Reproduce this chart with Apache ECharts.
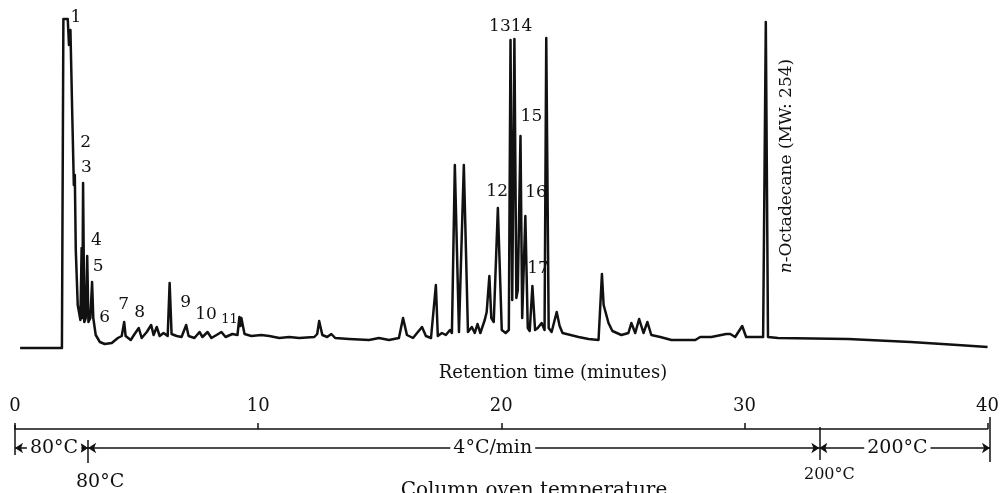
<!DOCTYPE html>
<html>
<head>
<meta charset="utf-8">
<style>
  html, body { margin: 0; padding: 0; background: #fff; }
  #chart { width: 1002px; height: 493px; }
</style>
</head>
<body>
<div id="chart"></div>
<script src="https://cdn.jsdelivr.net/npm/echarts@6/dist/echarts.min.js"></script>
<script>
// trace: retention time (min) and detector response (arb. units)
const retentionTime = [
  0.21, 1.93, 1.99, 2.17, 2.22, 2.28, 2.36, 2.42, 2.46, 2.50,
  2.58, 2.69, 2.74, 2.77, 2.80, 2.85, 2.91, 2.97, 3.02, 3.10,
  3.17, 3.22, 3.32, 3.49, 3.69, 3.98, 4.23, 4.39, 4.49, 4.55,
  4.76, 4.92, 5.09, 5.21, 5.42, 5.60, 5.70, 5.83, 5.95, 6.11,
  6.28, 6.36, 6.44, 6.65, 6.85, 7.04, 7.14, 7.38, 7.59, 7.71,
  7.92, 8.08, 8.29, 8.49, 8.66, 8.94, 9.15, 9.23, 9.27, 9.31,
  9.44, 9.72, 10.13, 10.46, 10.87, 11.28, 11.69, 12.31, 12.43, 12.51,
  12.64, 12.84, 13.01, 13.17, 13.74, 14.56, 14.97, 15.38, 15.79, 15.96,
  16.12, 16.37, 16.57, 16.74, 16.90, 17.11, 17.31, 17.39, 17.56, 17.72,
  17.89, 17.97, 18.09, 18.26, 18.34, 18.46, 18.63, 18.79, 18.91, 19.02,
  19.14, 19.32, 19.40, 19.51, 19.59, 19.69, 19.86, 20.02, 20.18, 20.31,
  20.38, 20.45, 20.54, 20.62, 20.68, 20.79, 20.86, 20.90, 20.99, 21.09,
  21.17, 21.28, 21.39, 21.50, 21.66, 21.78, 21.85, 21.95, 22.07, 22.28,
  22.40, 22.52, 22.85, 23.18, 23.59, 24.00, 24.14, 24.21, 24.27, 24.41,
  24.57, 24.94, 25.23, 25.35, 25.51, 25.67, 25.85, 26.01, 26.17, 26.54,
  27.00, 27.98, 28.18, 28.64, 29.25, 29.42, 29.62, 29.91, 30.07, 30.77,
  30.88, 30.97, 31.38, 34.26, 36.84, 38.77, 40.00
]
const detectorSignal = [
  2, 2, 331, 331, 305, 320, 230, 165, 175, 100,
  45, 30, 102, 32, 167, 28, 32, 94, 28, 32,
  68, 32, 15, 8, 6, 7, 12, 14, 28, 14,
  10, 16, 22, 12, 18, 25, 15, 23, 14, 17,
  14, 67, 16, 14, 13, 25, 14, 12, 18, 13,
  18, 12, 15, 18, 13, 16, 15, 33, 24, 32,
  16, 14, 15, 14, 12, 13, 12, 13, 16, 29,
  15, 13, 16, 12, 11, 10, 12, 10, 12, 32,
  15, 12, 18, 23, 14, 12, 65, 14, 17, 15,
  20, 17, 185, 18, 20, 185, 18, 23, 17, 26,
  17, 30, 38, 74, 32, 28, 142, 20, 17, 20,
  310, 50, 311, 52, 60, 214, 32, 30, 134, 22,
  19, 64, 20, 22, 27, 20, 312, 22, 18, 38,
  24, 17, 15, 13, 11, 10, 76, 45, 47, 27,
  19, 15, 17, 27, 17, 31, 17, 28, 15, 13,
  10, 10, 13, 13, 16, 16, 13, 24, 13, 13,
  328, 13, 12, 11, 8, 5, 3
]

// peak numbers and where they are written (time, response)
const peakNames = ['1', '2', '3', '4', '5', '6', '7', '8', '9', '10', '11', '12', '1314', '15', '16', '17']
const peakNameTime = [2.50, 2.91, 2.94, 3.35, 3.42, 3.69, 4.47, 5.13, 7.02, 7.86, 8.82, 19.83, 20.39, 21.24, 21.43, 21.51]
const peakNameSignal = [332, 207, 182, 109, 83, 32, 45, 37, 47, 35, 30, 158, 323, 233, 157, 81]

// internal standard
const standardName = ['n', '-Octadecane (MW: 254)']
const standardTime = 31.75
const standardSignal = 184

// oven program
const programBreaks = [0, 3, 33, 40]
const programSteps = ['80°C', '4°C/min', '200°C']
const programStepTime = [1.6, 19.6, 36.2]
const programTemps = ['', '80°C', '200°C', '']

const FONT = 'DejaVu Serif'
const INK = '#111'

const chart = echarts.init(document.getElementById('chart'))

const trace = retentionTime.map((t, i) => [t, detectorSignal[i]])
const peakLabels = peakNames.map((name, i) => ({
  name: name,
  value: [peakNameTime[i], peakNameSignal[i]],
  label: name === '11' ? { fontSize: 13 } : undefined
}))

// temperature bar: level of the arrow line and the heights of the boundary marks
const BAR_Y = 45
const boundSpan = [[38, 68], [30, 53], [33, 66], [31, 76]]

const stepLines = programSteps.map((step, i) => [
  { coord: [programBreaks[i], BAR_Y] },
  { coord: [programBreaks[i + 1], BAR_Y] }
])
const boundLines = programBreaks.map((t, i) => [
  { coord: [t, boundSpan[i][0]], symbol: 'none' },
  { coord: [t, boundSpan[i][1]], symbol: 'none' }
])

const textLayer = {
  type: 'scatter',
  silent: true,
  clip: false,
  symbolSize: 1,
  itemStyle: { color: 'transparent', opacity: 1 },
  z: 5
}

const option = {
  animation: false,
  grid: [
    { left: 15, right: 12, top: 10, bottom: 143 },
    { left: 15, right: 12, top: 415, bottom: 0 }
  ],
  xAxis: [
    {
      gridIndex: 0,
      type: 'value',
      min: 0,
      max: 40,
      interval: 10,
      position: 'bottom',
      offset: 79,
      axisLine: { onZero: false, lineStyle: { color: INK, width: 1.5 } },
      axisTick: { inside: true, length: 6, lineStyle: { color: INK, width: 1.5 } },
      axisLabel: { inside: true, margin: 14, color: INK, fontFamily: FONT, fontSize: 18, showMinLabel: true, showMaxLabel: true },
      splitLine: { show: false }
    },
    { gridIndex: 1, type: 'value', min: 0, max: 40, show: false }
  ],
  yAxis: [
    { gridIndex: 0, type: 'value', min: 0, max: 340, show: false },
    { gridIndex: 1, type: 'value', min: 0, max: 78, show: false }
  ],
  series: [
    {
      type: 'line',
      xAxisIndex: 0,
      yAxisIndex: 0,
      data: trace,
      showSymbol: false,
      silent: true,
      clip: false,
      lineStyle: { color: INK, width: 2.5, join: 'round' }
    },
    Object.assign({}, textLayer, {
      xAxisIndex: 0,
      yAxisIndex: 0,
      label: {
        show: true,
        position: 'inside',
        formatter: '{b}',
        color: INK,
        fontFamily: FONT,
        fontSize: 17
      },
      data: peakLabels
    }),
    Object.assign({}, textLayer, {
      xAxisIndex: 0,
      yAxisIndex: 0,
      label: {
        show: true,
        position: 'inside',
        rotate: 90,
        formatter: '{i|' + standardName[0] + '}' + standardName[1],
        color: INK,
        fontFamily: FONT,
        fontSize: 17,
        rich: { i: { fontStyle: 'italic', fontFamily: FONT, fontSize: 17, color: INK } }
      },
      data: [[standardTime, standardSignal]]
    }),
    {
      type: 'line',
      xAxisIndex: 1,
      yAxisIndex: 1,
      data: [],
      silent: true,
      markLine: {
        silent: true,
        animation: false,
        symbol: ['arrow', 'arrow'],
        symbolSize: 8,
        lineStyle: { color: INK, width: 1.5, type: 'solid' },
        label: { show: false },
        emphasis: { disabled: true },
        data: stepLines.concat(boundLines)
      }
    },
    Object.assign({}, textLayer, {
      xAxisIndex: 1,
      yAxisIndex: 1,
      data: programSteps.map((step, i) => ({ name: step, value: [programStepTime[i], BAR_Y] })),
      label: {
        show: true,
        position: 'inside',
        formatter: '{b}',
        color: INK,
        fontFamily: FONT,
        fontSize: 19,
        backgroundColor: '#fff',
        padding: [0, 3]
      }
    }),
    Object.assign({}, textLayer, {
      xAxisIndex: 1,
      yAxisIndex: 1,
      data: [
        { value: [programBreaks[1], 11], name: programTemps[1], label: { offset: [12, 0], fontSize: 19 } },
        { value: [programBreaks[2], 18], name: programTemps[2], label: { offset: [10, 0], fontSize: 16 } }
      ],
      label: {
        show: true,
        position: 'inside',
        formatter: '{b}',
        color: INK,
        fontFamily: FONT
      }
    })
  ],
  graphic: [
    {
      type: 'text',
      x: 553,
      y: 373,
      style: { text: 'Retention time (minutes)', font: '18px "DejaVu Serif"', fill: INK, align: 'center', verticalAlign: 'middle' }
    },
    {
      type: 'text',
      x: 534,
      y: 491,
      style: { text: 'Column oven temperature', font: '20px "DejaVu Serif"', fill: INK, align: 'center', verticalAlign: 'middle' }
    }
  ]
}

chart.setOption(option)
</script>
</body>
</html>
